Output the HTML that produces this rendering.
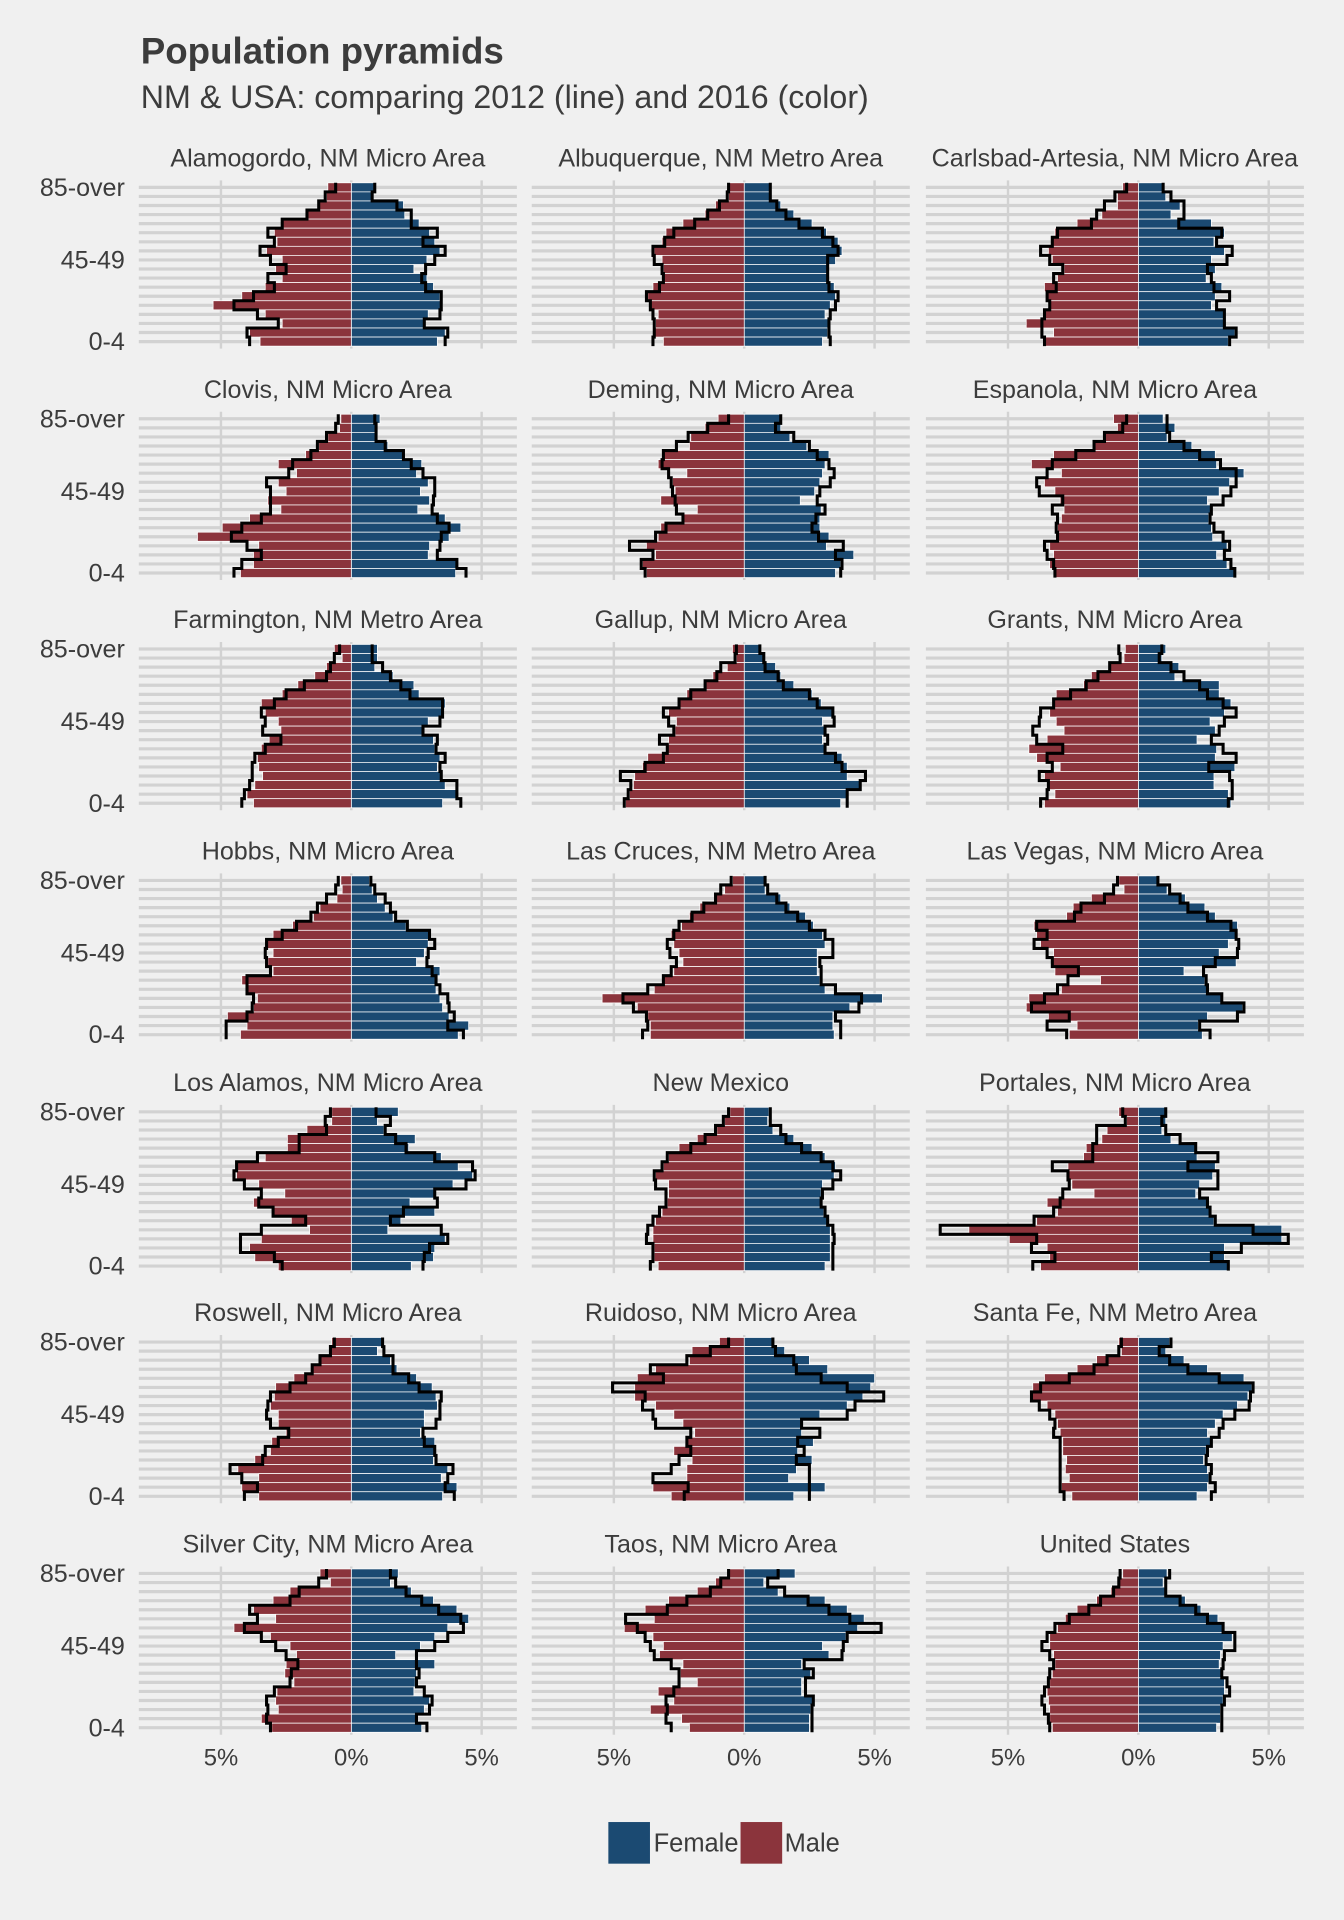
<!DOCTYPE html>
<html><head><meta charset="utf-8"><style>
html,body{margin:0;padding:0;background:#f0f0f0;}
svg{display:block;font-family:"Liberation Sans",sans-serif;}
</style></head><body>
<svg id="chart" width="1344" height="1920" viewBox="0 0 1098 1568" preserveAspectRatio="none" xmlns="http://www.w3.org/2000/svg">
<rect x="0" y="0" width="1098" height="1568" fill="#f0f0f0"/>
<text x="115" y="52" font-size="30" font-weight="bold" fill="#3c3c3c">Population pyramids</text>
<text x="115" y="88" font-size="26.3" fill="#3c3c3c">NM &amp; USA: comparing 2012 (line) and 2016 (color)</text>
<g id="panels"></g>
<rect x="497" y="1488" width="34" height="34" fill="#1b4a72"/>
<text x="534" y="1512" font-size="20.8" fill="#3c3c3c">Female</text>
<rect x="605" y="1488" width="34" height="34" fill="#8b343c"/>
<text x="641" y="1512" font-size="20.8" fill="#3c3c3c">Male</text>
</svg>
<script>
const ages=["85-over","80-84","75-79","70-74","65-69","60-64","55-59","50-54","45-49","40-44","35-39","30-34","25-29","20-24","15-19","10-14","5-9","0-4"];
const shownAgeLabels=["85-over","45-49","0-4"];
const xTickValues=[-5,0,5];
const xTickLabels=["5%","0%","5%"];
const panels=["Alamogordo, NM Micro Area","Albuquerque, NM Metro Area","Carlsbad-Artesia, NM Micro Area","Clovis, NM Micro Area","Deming, NM Micro Area","Espanola, NM Micro Area","Farmington, NM Metro Area","Gallup, NM Micro Area","Grants, NM Micro Area","Hobbs, NM Micro Area","Las Cruces, NM Metro Area","Las Vegas, NM Micro Area","Los Alamos, NM Micro Area","New Mexico","Portales, NM Micro Area","Roswell, NM Micro Area","Ruidoso, NM Micro Area","Santa Fe, NM Metro Area","Silver City, NM Micro Area","Taos, NM Micro Area","United States"];
// 2016 female (%), ordered 85-over -> 0-4
const female2016=[
[0.9,0.8,2.0,2.05,2.6,3.0,3.2,3.4,2.9,2.4,2.9,3.15,3.4,3.5,2.95,2.8,3.6,3.3],
[1.0,1.0,1.4,1.9,2.6,3.15,3.6,3.75,3.5,3.2,3.2,3.45,3.5,3.3,3.1,3.25,3.2,3.0],
[0.95,1.05,1.6,1.25,2.8,3.3,2.9,3.3,2.8,2.95,2.6,3.2,2.95,2.8,3.3,3.3,3.7,3.45],
[1.1,0.95,1.0,1.4,2.0,2.7,2.5,2.95,2.65,3.0,2.55,3.6,4.2,3.75,3.0,2.95,4.1,4.0],
[1.4,1.4,1.75,2.4,3.25,3.1,3.0,2.9,2.7,2.15,2.95,2.9,2.9,3.25,3.15,4.2,3.7,3.5],
[0.95,1.4,1.1,2.05,2.95,3.0,4.05,3.5,3.1,2.65,2.8,2.7,2.8,2.85,3.4,3.0,3.4,3.75],
[1.0,1.0,0.9,1.6,2.4,2.6,3.6,3.5,2.95,2.75,3.15,3.2,3.4,3.3,3.45,3.6,4.05,3.5],
[0.65,0.75,1.2,1.4,1.9,2.6,2.95,3.4,3.0,3.1,3.0,3.1,3.75,3.95,3.95,4.45,3.95,3.7],
[1.05,0.9,1.55,1.4,3.1,3.1,3.55,3.3,2.75,2.95,2.25,3.0,2.95,3.7,2.9,2.9,3.45,3.55],
[0.7,0.8,1.0,1.3,1.6,2.1,3.0,2.95,2.8,2.5,3.4,3.25,3.25,3.4,3.5,3.75,4.5,4.1],
[0.8,0.8,1.4,1.75,2.35,2.65,3.0,3.1,2.8,2.8,2.8,2.9,3.1,5.3,4.05,3.4,3.4,3.45],
[0.8,1.1,1.8,2.55,2.95,3.8,3.75,3.45,3.1,3.75,1.75,2.55,2.65,3.25,4.0,2.65,2.3,2.45],
[1.8,1.0,1.25,2.45,2.2,3.45,4.1,4.65,3.9,3.2,2.25,3.2,1.9,1.4,3.6,3.2,3.15,2.3],
[0.95,0.9,1.1,1.9,2.6,3.1,3.5,3.45,3.0,2.95,3.0,3.05,3.2,3.3,3.3,3.3,3.3,3.1],
[1.05,1.05,0.9,1.25,2.25,2.25,2.95,2.85,2.35,2.2,2.7,2.8,2.9,5.5,5.5,3.3,3.3,3.45],
[1.2,1.0,1.5,1.75,2.5,3.1,3.25,3.3,2.8,2.8,2.65,3.2,3.2,3.15,3.7,3.45,4.05,3.5],
[1.1,1.55,2.5,3.2,5.0,4.85,4.55,3.95,2.9,2.2,2.2,2.65,2.05,2.6,2.0,1.7,3.1,1.9],
[1.2,1.05,1.75,2.65,4.05,4.35,4.2,3.8,3.25,2.95,2.65,2.8,2.6,2.5,2.65,2.7,2.65,2.25],
[1.8,1.5,2.3,3.15,4.05,4.5,3.7,3.2,2.65,1.7,3.2,2.5,2.45,2.4,3.0,2.8,2.5,2.7],
[1.95,0.75,1.3,3.1,3.95,4.6,4.35,3.9,3.0,3.25,2.2,2.55,2.2,2.2,2.65,2.55,2.5,2.5],
[1.1,0.95,1.1,1.8,2.4,3.05,3.25,3.6,3.25,3.15,3.1,3.25,3.3,3.3,3.25,3.15,3.15,3.0]];
// 2016 male (%)
const male2016=[
[0.9,0.95,1.25,1.7,2.65,2.95,2.85,3.25,2.65,2.9,2.65,3.3,4.2,5.3,3.3,2.65,3.9,3.5],
[0.6,0.6,1.1,1.5,2.35,3.0,3.15,3.45,3.15,3.1,3.1,3.5,3.7,3.6,3.3,3.4,3.45,3.1],
[0.6,0.8,0.8,1.4,2.35,3.2,3.3,3.45,3.3,2.85,3.1,3.6,3.5,3.45,3.6,4.3,3.25,3.6],
[0.4,0.45,0.9,1.25,1.75,2.8,2.1,2.8,2.5,3.2,2.7,3.9,4.95,5.9,3.55,3.75,3.75,4.25],
[1.0,1.5,2.05,2.1,3.15,3.3,2.2,2.75,2.65,3.2,1.8,2.4,3.2,3.3,3.75,3.4,3.9,3.75],
[0.95,0.8,1.3,1.75,3.25,4.1,2.95,3.6,3.2,3.0,2.85,2.95,3.1,3.1,3.4,3.25,3.4,3.2],
[0.65,0.35,0.95,1.4,2.05,2.65,3.45,3.3,2.8,2.7,3.15,3.45,3.6,3.55,3.4,3.7,4.0,3.75],
[0.45,0.3,0.65,1.2,1.5,2.2,2.55,2.9,2.6,2.65,2.9,2.95,3.7,3.9,4.2,4.25,4.4,4.55],
[0.5,0.55,1.1,1.8,2.1,3.15,3.3,3.4,3.15,2.85,3.5,4.2,3.9,3.0,3.6,3.45,3.2,3.6],
[0.4,0.35,0.55,1.2,1.45,2.25,3.0,3.25,3.0,3.2,3.0,4.2,4.0,3.6,3.75,4.75,4.0,4.25],
[0.45,0.75,1.1,1.7,2.1,2.4,2.8,2.7,2.5,2.35,2.7,3.1,3.45,5.45,4.1,3.7,3.6,3.6],
[0.75,0.55,1.8,2.5,2.75,4.0,3.9,3.75,3.25,3.3,3.2,1.45,2.95,4.2,4.3,3.45,2.35,2.65],
[0.75,0.75,1.7,2.45,2.45,3.3,4.45,4.4,3.55,2.55,3.75,3.0,2.3,1.6,3.45,3.9,3.7,2.8],
[0.55,0.75,1.05,1.8,2.5,2.9,3.1,3.4,2.9,2.9,2.95,3.15,3.4,3.5,3.5,3.45,3.45,3.3],
[0.75,0.45,1.2,1.4,2.0,2.1,2.7,2.7,2.55,1.7,3.5,3.1,3.9,6.5,4.95,3.5,3.4,3.75],
[0.75,0.8,1.2,1.55,2.2,2.9,2.95,3.1,2.8,2.8,2.5,3.05,3.1,3.7,4.35,3.55,4.2,3.55],
[0.95,2.0,2.1,3.4,4.1,4.2,4.2,3.4,2.7,2.35,1.9,2.25,2.7,2.0,2.2,2.2,3.5,2.8],
[0.75,0.65,1.6,2.35,3.6,4.05,4.15,3.5,3.2,3.1,3.0,2.9,2.9,2.75,2.8,2.65,2.95,2.55],
[1.2,0.8,2.35,3.0,3.75,2.9,4.5,3.1,2.35,2.1,2.5,2.55,2.2,2.85,2.9,2.8,3.45,3.05],
[0.6,1.1,1.8,2.9,3.8,3.45,4.6,3.5,3.1,3.25,2.35,2.45,1.8,3.3,2.7,3.6,2.4,2.1],
[0.6,0.75,1.05,1.6,2.35,2.8,3.1,3.4,3.4,3.25,3.2,3.3,3.4,3.5,3.45,3.4,3.4,3.3]];
// 2012 female (%)
const female2012=[
[0.9,0.8,1.75,2.3,2.3,3.3,2.75,3.6,3.2,2.85,2.7,2.85,3.45,3.45,3.4,2.8,3.7,3.6],
[1.0,1.0,1.25,1.6,2.1,3.0,3.4,3.6,3.2,3.2,3.2,3.25,3.6,3.5,3.3,3.25,3.25,3.3],
[0.95,1.25,1.75,1.75,1.55,3.2,3.0,3.6,3.4,2.65,2.8,2.9,3.5,3.0,3.3,3.3,3.75,3.5],
[0.9,0.95,0.95,1.3,2.0,2.3,2.75,3.2,3.2,3.15,3.1,3.3,3.75,3.45,3.4,3.3,4.05,4.4],
[1.4,1.2,1.9,2.5,2.8,3.25,3.45,3.3,2.9,2.8,3.1,2.75,2.6,2.85,3.8,3.5,3.75,3.7],
[1.1,1.1,1.2,1.75,2.35,3.15,3.75,3.75,3.55,3.25,2.8,2.75,2.9,3.25,3.5,3.3,3.55,3.7],
[0.8,0.8,1.2,1.5,1.9,2.25,3.5,3.5,3.4,2.75,3.3,3.25,3.6,3.4,3.45,4.05,4.05,4.2],
[0.6,0.75,0.8,1.3,1.5,2.5,2.8,3.4,3.45,3.1,3.2,3.1,3.5,3.75,4.65,4.45,3.95,3.95],
[0.9,0.8,1.25,1.75,2.35,2.65,3.25,3.75,3.3,3.1,2.8,3.25,3.75,2.7,3.5,3.6,3.6,3.45],
[0.75,0.9,1.3,1.5,1.7,2.15,3.0,3.2,2.95,2.9,3.1,3.25,3.4,3.7,3.75,3.95,3.7,4.3],
[0.8,0.9,1.25,1.6,2.05,2.5,3.1,3.4,3.4,2.9,2.95,2.95,3.5,4.5,4.4,3.5,3.7,3.7],
[0.75,1.2,1.6,1.9,2.65,3.55,3.75,3.85,3.8,2.95,2.5,2.6,2.65,3.2,4.05,3.8,2.35,2.75],
[0.95,1.5,1.3,1.7,2.1,3.2,4.65,4.75,4.4,3.2,3.3,2.0,1.5,3.45,3.7,3.0,2.8,2.75],
[1.0,1.0,1.4,1.6,2.2,2.95,3.4,3.7,3.4,3.0,2.95,3.1,3.2,3.4,3.45,3.4,3.4,3.4],
[1.05,0.9,1.05,1.6,2.2,3.05,1.9,3.05,3.05,2.35,2.65,2.75,2.95,4.4,5.75,3.95,2.8,3.45],
[1.2,1.25,1.6,1.6,2.2,2.6,3.45,3.4,3.4,3.25,2.75,2.8,3.2,3.25,3.9,3.7,3.6,3.95],
[1.1,1.2,1.9,2.0,2.95,3.95,5.35,4.25,3.95,2.2,2.9,2.05,2.3,2.0,2.5,2.5,2.5,2.5],
[1.25,0.8,1.2,1.9,3.1,4.4,4.3,4.25,3.7,3.25,3.1,2.8,2.65,2.6,2.8,2.75,2.95,2.8],
[1.5,1.7,2.1,2.7,3.35,4.2,4.3,3.7,3.2,2.5,2.5,2.6,2.5,2.8,3.1,3.0,2.5,2.9],
[1.3,0.9,1.55,2.45,3.25,4.05,5.25,3.95,3.8,3.75,2.3,2.65,2.35,2.35,2.65,2.6,2.6,2.6],
[1.2,1.05,1.05,1.6,2.2,2.65,3.25,3.7,3.7,3.3,3.25,3.2,3.4,3.5,3.3,3.2,3.2,3.2]];
// 2012 male (%)
const male2012=[
[0.6,1.0,1.25,1.7,2.65,3.2,2.95,3.5,3.1,2.5,3.2,2.95,3.75,4.5,3.6,2.8,4.0,3.9],
[0.6,0.65,0.95,1.4,1.9,2.7,3.05,3.5,3.45,3.15,3.1,3.25,3.75,3.6,3.5,3.45,3.45,3.5],
[0.45,0.9,1.3,1.6,1.8,3.1,3.3,3.75,3.4,2.9,3.25,3.15,3.5,3.4,3.6,3.7,3.7,3.6],
[0.5,0.6,0.95,1.3,1.55,2.25,2.4,3.25,3.1,3.1,3.1,3.45,4.2,4.6,4.0,3.45,4.2,4.5],
[0.6,1.4,2.15,2.6,3.1,3.15,2.9,2.8,2.75,2.65,2.6,2.35,3.0,3.4,4.4,3.5,3.95,3.8],
[0.45,0.6,1.3,1.7,2.4,3.3,3.5,3.9,3.8,2.9,3.3,3.1,3.15,3.1,3.6,3.5,3.25,3.2],
[0.45,0.65,0.8,0.95,1.8,2.5,2.95,3.45,3.3,3.4,2.7,3.3,3.7,3.8,3.8,3.9,4.1,4.2],
[0.3,0.35,0.9,1.05,1.5,2.05,2.5,3.1,2.9,2.7,3.25,2.95,3.1,3.8,4.75,4.35,4.45,4.6],
[0.75,0.7,1.1,1.55,2.0,2.6,3.25,3.75,3.8,4.05,3.9,2.9,3.5,3.3,3.8,3.45,3.5,3.75],
[0.5,0.6,0.95,1.3,1.55,2.1,2.65,3.25,3.3,3.25,3.1,4.0,4.0,3.75,3.8,4.0,4.8,4.8],
[0.5,0.9,1.1,1.55,2.0,2.5,2.7,2.95,2.85,2.6,2.8,3.1,3.7,4.65,4.25,3.75,3.7,3.9],
[0.8,0.95,1.3,2.2,2.45,3.9,3.5,4.0,3.5,3.3,2.3,2.7,3.1,3.6,4.1,2.65,3.5,2.75],
[0.8,1.0,0.95,2.0,2.0,3.6,4.4,4.5,4.1,3.45,3.55,3.0,1.75,3.45,4.25,4.25,2.95,2.65],
[0.6,0.8,1.1,1.5,2.05,2.95,3.15,3.45,3.4,3.0,3.0,3.25,3.5,3.7,3.75,3.5,3.5,3.6],
[0.6,0.5,1.6,1.6,1.75,1.75,3.3,2.7,2.65,2.9,3.0,3.25,4.0,7.6,3.9,4.1,3.2,4.05],
[0.65,0.8,1.2,1.5,1.75,2.35,3.1,3.2,3.25,3.1,2.4,2.8,3.3,3.4,4.65,4.2,3.6,4.1],
[0.6,1.3,2.2,3.6,3.1,5.05,3.8,3.9,3.5,3.4,2.05,2.2,2.05,2.5,2.8,3.5,2.15,2.3],
[0.65,0.75,1.2,1.7,2.65,3.75,4.1,3.8,3.4,3.2,3.25,3.0,3.0,3.0,3.0,3.0,3.0,2.85],
[0.95,1.25,2.0,2.35,3.9,3.6,4.1,3.45,2.9,2.5,2.05,2.3,2.35,2.95,3.25,3.2,3.25,3.1],
[0.6,0.9,1.3,2.2,2.95,4.55,4.1,3.8,3.6,3.45,2.8,2.5,2.5,2.7,3.0,2.95,3.0,2.8],
[0.7,0.75,0.95,1.45,1.9,2.65,3.2,3.5,3.7,3.4,3.25,3.4,3.45,3.6,3.7,3.6,3.45,3.4]];

const NS="http://www.w3.org/2000/svg";
const colCenters=[287,608,930];
const rowTop85=[153,342,530,719,908,1096,1285];
const pxPerPct=21.3, pitch=7.41, panelLeft=8.15, panelRight=6.35;
const FEM="#1b4a72", MAL="#8b343c";
const root=document.getElementById('panels');
function mk(tag,attrs,parent){const e=document.createElementNS(NS,tag);for(const k in attrs)e.setAttribute(k,attrs[k]);parent.appendChild(e);return e;}
function stepPath(vals,xf,y0){let d="";vals.forEach((v,i)=>{const x=xf(v).toFixed(2);const yt=(y0+i*pitch-pitch/2).toFixed(2);const yb=(y0+i*pitch+pitch/2).toFixed(2);d+=(i===0?"M":"L")+x+","+yt+"L"+x+","+yb;});return d;}
panels.forEach((name,p)=>{
  const c=p%3,r=Math.floor(p/3);
  const cx=colCenters[c],y0=rowTop85[r];
  const xs=v=>cx+v*pxPerPct;
  const g=mk('g',{},root);
  
  
  const t=mk('text',{x:(xs(-panelLeft)+xs(panelRight))/2,y:y0-17,'font-size':'20.5',fill:'#3c3c3c','text-anchor':'middle'},g);
  t.textContent=name;
  
  
  const L=xs(-panelLeft),R=xs(panelRight);
  const yTop=y0-pitch/2-2,yBot=y0+17*pitch+pitch/2+2;
  ages.forEach((a,i)=>{
    const gl=mk('line',{x1:L,x2:R,y1:y0+i*pitch,y2:y0+i*pitch,stroke:'#d2d2d2','stroke-width':'2.6'},g);
    
    
  });
  xTickValues.forEach(v=>{
    const vl=mk('line',{x1:xs(v),x2:xs(v),y1:yTop,y2:yBot,stroke:'#d2d2d2','stroke-width':'2'},g);
    
    
  });
  ages.forEach((a,i)=>{
    const yt=y0+i*pitch-pitch/2;
    const fb=mk('rect',{x:xs(0),y:yt,width:female2016[p][i]*pxPerPct,height:pitch,fill:FEM,stroke:'#ffffff','stroke-width':'0.6'},g);
    
    
    const mb=mk('rect',{x:xs(-male2016[p][i]),y:yt,width:male2016[p][i]*pxPerPct,height:pitch,fill:MAL,stroke:'#ffffff','stroke-width':'0.6'},g);
    
    
  });
  const fl=mk('path',{d:stepPath(female2012[p],v=>xs(v),y0),fill:'none',stroke:'#000','stroke-width':'2.5'},g);
  
  
  const ml=mk('path',{d:stepPath(male2012[p],v=>xs(-v),y0),fill:'none',stroke:'#000','stroke-width':'2.5'},g);
  
  
  if(c===0){
    shownAgeLabels.forEach(a=>{
      const i=ages.indexOf(a);
      const yl=mk('text',{x:102,y:y0+i*pitch+7,'font-size':'20.5','fill':'#3c3c3c','text-anchor':'end'},g);
      yl.textContent=a;
      
      
    });
  }
  if(r===6){
    xTickValues.forEach((v,k)=>{
      const xl=mk('text',{x:xs(v),y:1442,'font-size':'19.5',fill:'#3c3c3c','text-anchor':'middle'},g);
      xl.textContent=xTickLabels[k];
      
      
    });
  }
});
</script>
</body></html>
